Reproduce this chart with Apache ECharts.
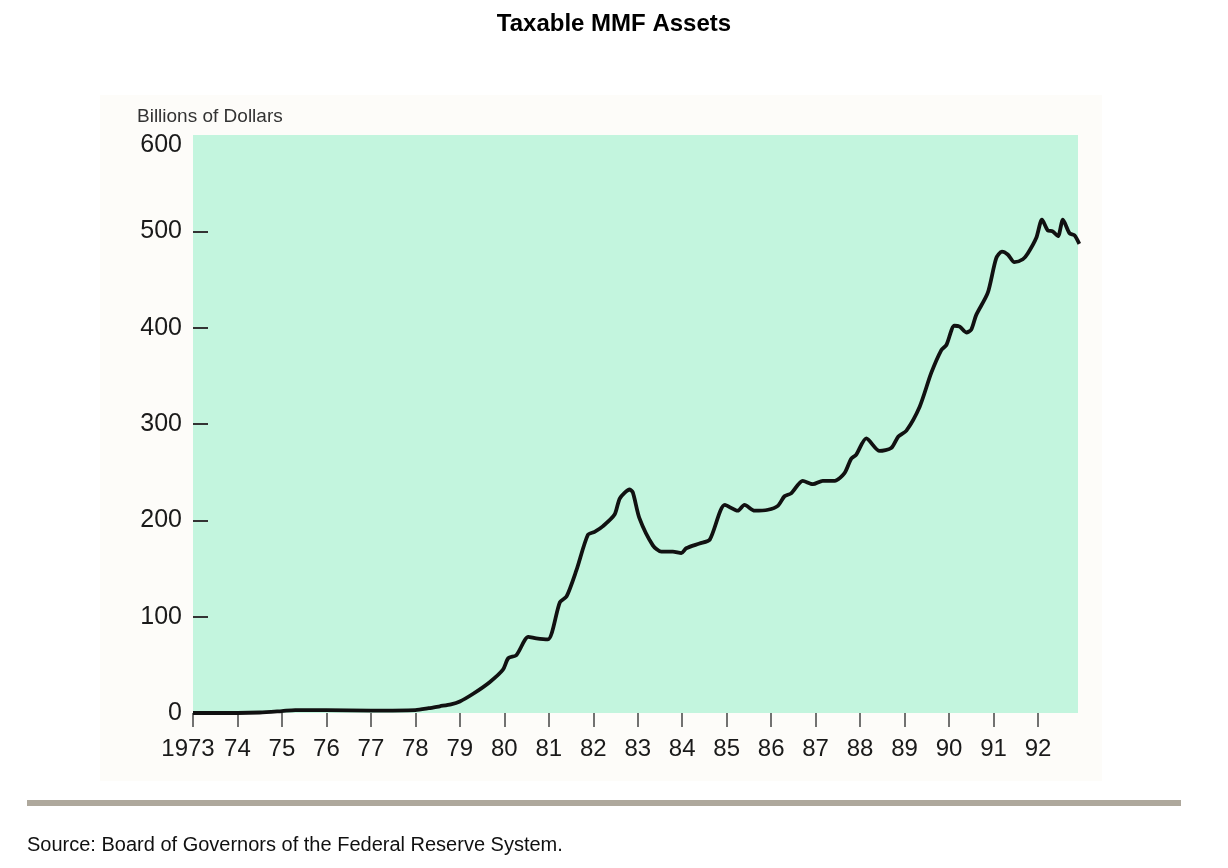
<!DOCTYPE html>
<html>
<head>
<meta charset="utf-8">
<script src="https://cdn.jsdelivr.net/npm/echarts@6/dist/echarts.min.js"></script>
<style>
  html, body { margin: 0; padding: 0; background: #fff; }
  #chart { width: 1228px; height: 868px; }
</style>
</head>
<body>
<div id="chart"></div>
<script>
// data (year, billions of dollars)
const years = [
    1973.0, 1973.5, 1974.0, 1974.5, 1975.0, 1975.3, 1976.0, 1977.0, 1978.0, 1978.3,
    1978.55, 1978.8, 1979.0, 1979.3, 1979.67, 1979.97, 1980.09, 1980.27, 1980.54, 1980.72,
    1980.98, 1981.25, 1981.4, 1981.62, 1981.88, 1982.03, 1982.22, 1982.48, 1982.6, 1982.82,
    1982.89, 1983.04, 1983.34, 1983.53, 1983.79, 1983.98, 1984.09, 1984.39, 1984.62, 1984.96,
    1985.25, 1985.4, 1985.63, 1985.93, 1986.15, 1986.3, 1986.45, 1986.71, 1986.94, 1987.16,
    1987.43, 1987.65, 1987.8, 1987.91, 1988.14, 1988.44, 1988.7, 1988.86, 1989.04, 1989.34,
    1989.6, 1989.83, 1989.94, 1990.12, 1990.24, 1990.39, 1990.5, 1990.61, 1990.87, 1991.06,
    1991.19, 1991.32, 1991.47, 1991.66, 1991.77, 1991.96, 1992.09, 1992.22, 1992.33, 1992.45,
    1992.56, 1992.71, 1992.82, 1992.93
];
const assets = [
    0, 0, 0, 0.5, 2, 3, 3, 2.5, 3, 5,
    7, 9, 12, 20, 32, 45, 57, 60, 79, 77.5,
    76.5, 115, 121, 148, 185, 188, 194, 206, 223, 232,
    229, 202, 174, 167.5, 167.5, 166, 171, 176, 180, 216,
    210, 216, 210, 211, 215, 225, 228, 241, 237.5, 241,
    241, 249, 264, 268, 285, 272, 275, 287, 293, 318,
    353, 377, 382, 402, 401, 395, 398, 413, 436, 472,
    479, 476, 468, 471, 477, 493, 512, 501, 500, 495,
    512, 498, 496, 487
];
const xTickYears = [1973, 1974, 1975, 1976, 1977, 1978, 1979, 1980, 1981, 1982,
    1983, 1984, 1985, 1986, 1987, 1988, 1989, 1990, 1991, 1992];
const yTicks = [0, 100, 200, 300, 400, 500, 600];
const yTickMarks = [100, 200, 300, 400, 500];

let chart = echarts.init(document.getElementById('chart'));
let option = {
    backgroundColor: '#ffffff',
    animation: false,
    title: {
        text: 'Taxable MMF Assets',
        left: 'center',
        top: 7,
        textStyle: {
            fontFamily: 'Liberation Sans',
            fontWeight: 'bold',
            fontSize: 24,
            color: '#000'
        }
    },
    graphic: [
        // faint panel behind the scanned chart
        {
            type: 'rect',
            z: -10,
            shape: { x: 100, y: 95, width: 1002, height: 686 },
            style: { fill: '#fdfcf9' }
        },
        {
            type: 'text',
            left: 137,
            top: 107,
            style: {
                text: 'Billions of Dollars',
                fontFamily: 'Liberation Sans',
                fontSize: 19,
                fill: '#333'
            }
        },
        {
            type: 'rect',
            shape: { x: 27, y: 800, width: 1154, height: 6 },
            style: { fill: '#aea89c' }
        },
        {
            type: 'text',
            left: 27,
            top: 835,
            style: {
                text: 'Source: Board of Governors of the Federal Reserve System.',
                fontFamily: 'Liberation Sans',
                fontSize: 20,
                fill: '#111'
            }
        }
    ],
    grid: {
        left: 193,
        right: 150,
        top: 135,
        bottom: 155,
        show: true,
        backgroundColor: '#c3f5de',
        borderWidth: 0
    },
    xAxis: {
        type: 'value',
        min: 1973,
        max: 1992.9,
        interval: 1,
        splitLine: { show: false },
        axisLine: { show: false },
        axisTick: {
            show: true,
            customValues: xTickYears,
            length: 14,
            lineStyle: { color: '#444', width: 1.5 }
        },
        axisLabel: {
            customValues: xTickYears,
            margin: 24,
            fontFamily: 'Liberation Sans',
            fontSize: 24,
            color: '#1a1a1a',
            formatter: function (v) {
                return v === 1973 ? '{first|1973}' : String(v).slice(2);
            },
            rich: {
                first: {
                    fontFamily: 'Liberation Sans',
                    fontSize: 24,
                    color: '#1a1a1a',
                    padding: [0, 10, 0, 0]
                }
            }
        }
    },
    yAxis: {
        type: 'value',
        min: 0,
        max: 600,
        interval: 100,
        splitLine: { show: false },
        axisLine: { show: false },
        axisTick: {
            show: true,
            inside: true,
            customValues: yTickMarks,
            length: 15,
            lineStyle: { color: '#333', width: 2 }
        },
        axisLabel: {
            customValues: yTicks,
            margin: 11,
            fontFamily: 'Liberation Sans',
            fontSize: 25,
            color: '#1a1a1a',
            formatter: function (v) {
                return v === 600 ? '{top|600}' : String(v);
            },
            rich: {
                top: {
                    fontFamily: 'Liberation Sans',
                    fontSize: 25,
                    color: '#1a1a1a',
                    padding: [20, 0, 0, 0]
                }
            }
        }
    },
    series: [
        {
            type: 'line',
            clip: false,
            smooth: 0.25,
            symbol: 'none',
            lineStyle: { color: '#111', width: 3.8 },
            data: years.map((y, i) => [y, assets[i]])
        }
    ]
};
chart.setOption(option);
</script>
</body>
</html>
